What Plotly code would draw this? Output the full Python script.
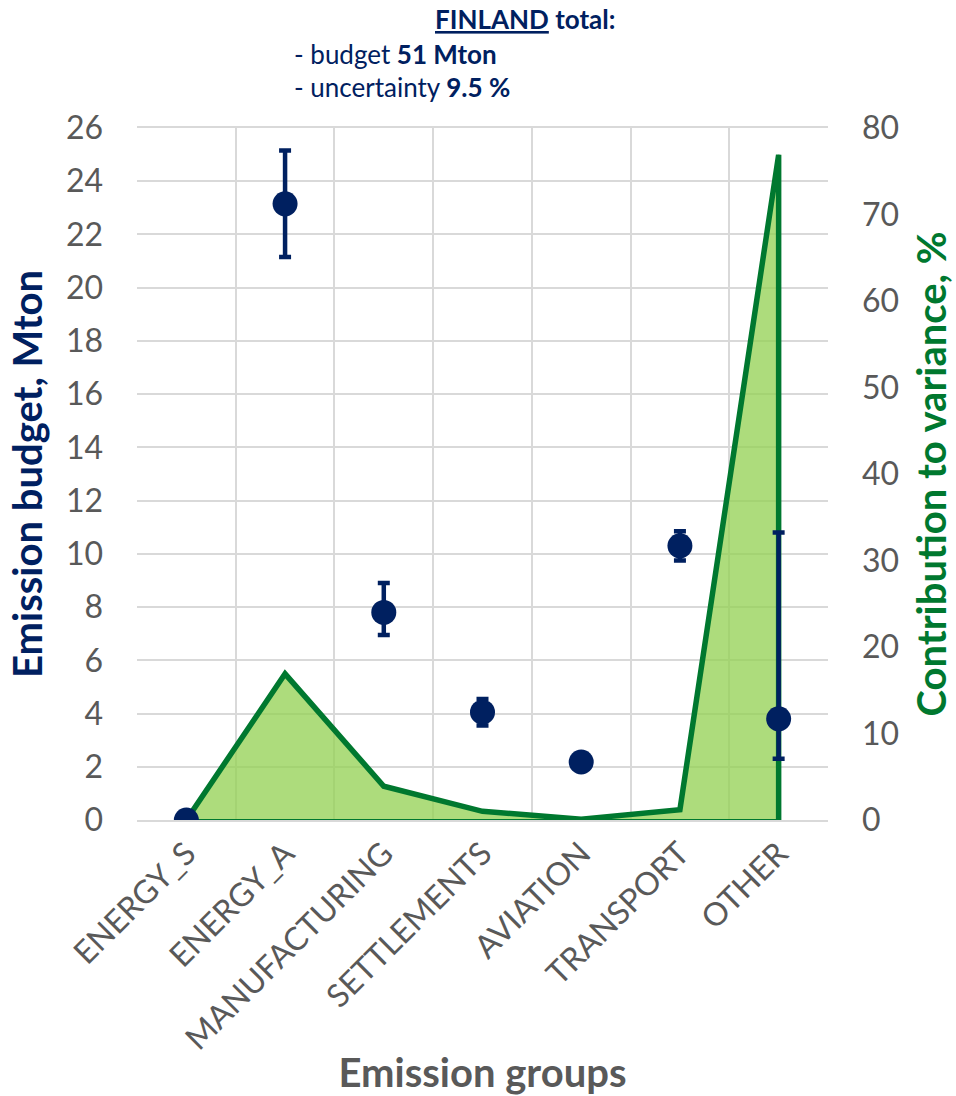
import plotly.graph_objects as go

# Emission groups and their values
categories = ["ENERGY_S", "ENERGY_A", "MANUFACTURING", "SETTLEMENTS",
              "AVIATION", "TRANSPORT", "OTHER"]
budget_mton = [0.0, 23.15, 7.8, 4.05, 2.18, 10.3, 3.8]
budget_err_plus = [0.0, 2.0, 1.1, 0.5, 0.1, 0.55, 7.0]
budget_err_minus = [0.0, 2.0, 0.85, 0.5, 0.1, 0.55, 1.5]
variance_pct = [0.0, 16.9, 3.9, 1.0, 0.1, 1.2, 76.9]

left_ticks = list(range(0, 27, 2))
right_ticks = list(range(0, 81, 10))

NAVY = "#002060"
GREEN = "#00782f"
FILL = "rgba(146,208,80,0.75)"
GRAY = "#595959"
GRID = "#d9d9d9"
FONT = "Lato"

fig = go.Figure()

# Variance contribution: filled area (closed polygon) on the right axis
fig.add_trace(go.Scatter(
    x=categories + [categories[-1], categories[0]],
    y=variance_pct + [0, 0],
    mode="lines", fill="toself", fillcolor=FILL,
    line=dict(color=GREEN, width=2),
    yaxis="y", hoverinfo="skip", showlegend=False,
))
fig.add_trace(go.Scatter(
    x=categories + [categories[-1]],
    y=variance_pct + [0],
    mode="lines", line=dict(color=GREEN, width=5.5),
    yaxis="y", showlegend=False,
))

# Emission budget with uncertainty on the left axis
fig.add_trace(go.Scatter(
    x=categories, y=budget_mton, mode="markers",
    marker=dict(color=NAVY, size=25),
    error_y=dict(type="data", symmetric=False, array=budget_err_plus,
                 arrayminus=budget_err_minus, color=NAVY,
                 thickness=4.5, width=6),
    yaxis="y2", showlegend=False,
))

fig.update_layout(
    width=956, height=1096,
    margin=dict(l=137, r=128, t=128, b=276),
    paper_bgcolor="white", plot_bgcolor="white",
    font=dict(family=FONT, color=GRAY),
    xaxis=dict(
        type="category", tickson="boundaries", showgrid=True,
        gridcolor=GRID, gridwidth=2, ticks="", tickangle=-45,
        tickfont=dict(size=32, color=GRAY), automargin=False,
        showline=True, linecolor=GRID, linewidth=2, mirror=True,
        range=[-0.5, 6.5],
        title=dict(text="<b>Emission groups</b>",
                   font=dict(size=40, color=GRAY), standoff=14),
    ),
    yaxis=dict(
        side="right", range=[0, 80], tickvals=right_ticks,
        showgrid=False, zeroline=False, ticks="", automargin=False,
        tickfont=dict(size=32, color=GRAY), ticklabelstandoff=33,
        title=dict(text="<b>Contribution to variance, %</b>",
                   font=dict(size=40, color=GREEN), standoff=19),
    ),
    yaxis2=dict(
        overlaying="y", side="left", range=[0, 26], tickvals=left_ticks,
        showgrid=True, gridcolor=GRID, gridwidth=2, automargin=False,
        zeroline=True, zerolinecolor=GRID, zerolinewidth=2, ticks="",
        tickfont=dict(size=32, color=GRAY), ticklabelstandoff=33,
        title=dict(text="<b>Emission budget, Mton</b>",
                   font=dict(size=40, color=NAVY), standoff=10),
    ),
    annotations=[
        dict(xref="paper", yref="paper", x=0.5615, y=1.158,
             text="<b><u>FINLAND</u> total:</b>", showarrow=False,
             xanchor="center", yanchor="middle",
             font=dict(size=26, color=NAVY, family=FONT)),
        dict(xref="paper", yref="paper", x=0.224, y=1.107,
             text="- budget <b>51 Mton</b>", showarrow=False,
             xanchor="left", yanchor="middle",
             font=dict(size=26, color=NAVY, family=FONT)),
        dict(xref="paper", yref="paper", x=0.224, y=1.059,
             text="- uncertainty <b>9.5 %</b>", showarrow=False,
             xanchor="left", yanchor="middle",
             font=dict(size=26, color=NAVY, family=FONT)),
    ],
)

fig.write_html("out.html")
